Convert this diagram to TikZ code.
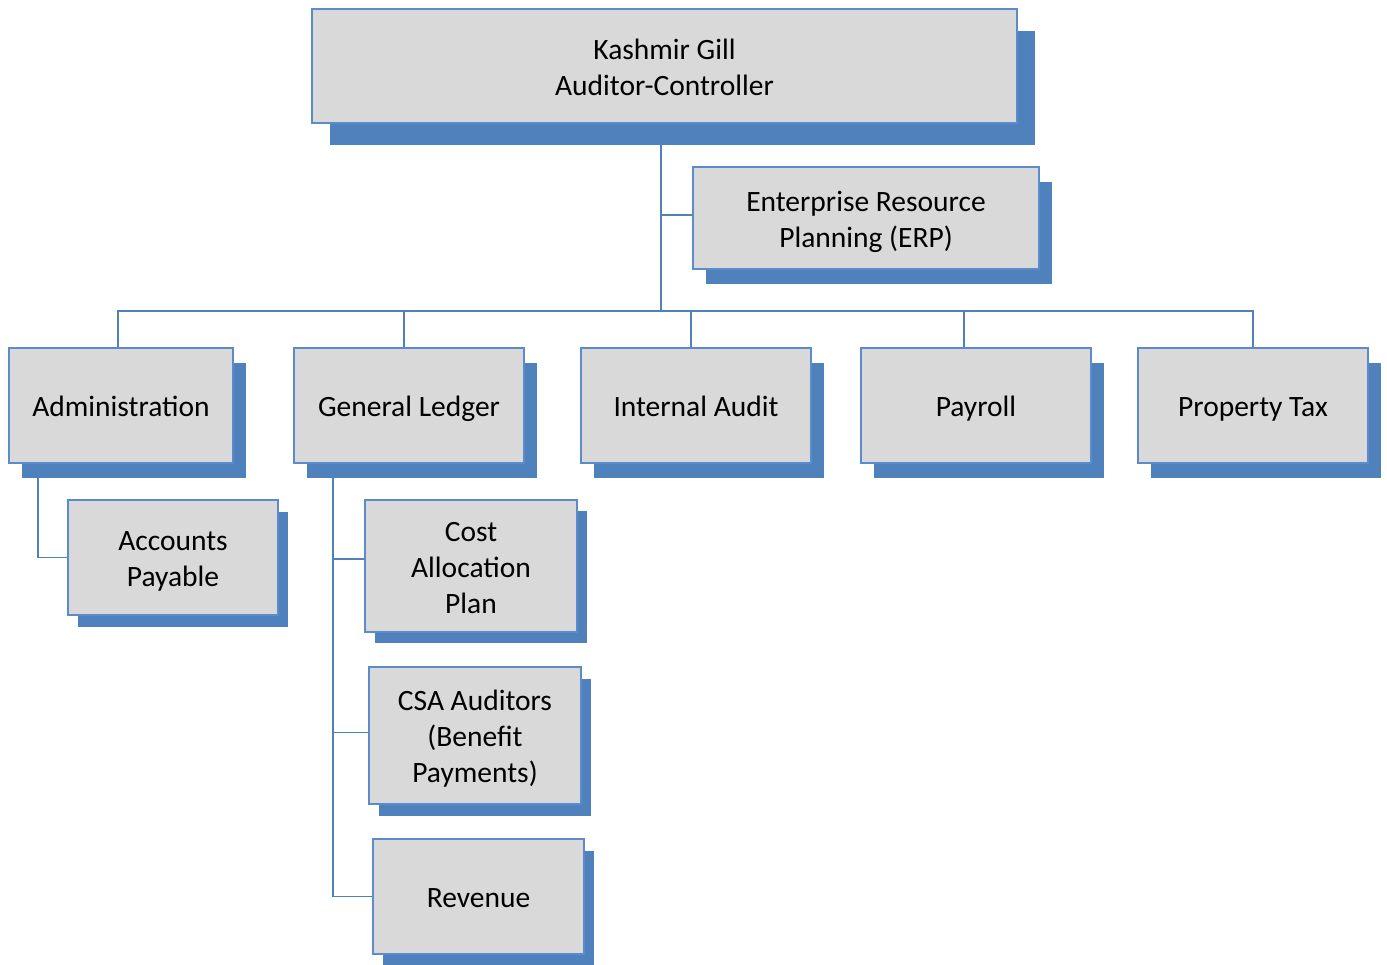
\documentclass[tikz,border=0pt]{standalone}
\usepackage{fontspec}
\setmainfont{Carlito}
\usetikzlibrary{shadows,backgrounds}
\definecolor{orgblue}{HTML}{4F81BD}
\definecolor{orgedge}{HTML}{5B8BCB}
\definecolor{orgfill}{HTML}{D9D9D9}
\tikzset{
  unit/.style={draw=orgedge, line width=1.4pt, fill=orgfill, inner sep=0pt,
    align=center, font=\fontsize{29.5}{36}\selectfont,
    text height=38pt, text depth=15.5pt},
  % labels of two or three lines: fixed extents keep them centred in the box
  tworows/.style={text height=74pt},
  threerows/.style={text height=110pt},
  drop/.style 2 args={general shadow={fill=orgblue, shadow xshift=#1pt, shadow yshift=-#2pt}},
  conn/.style={draw=orgblue, line width=1.5pt},
}
\begin{document}
\begin{tikzpicture}[x=1pt, y=-1pt]
\useasboundingbox (0,0) rectangle (1387,964);

% head of department
\node[unit, tworows, drop={18}{22}, minimum width=705pt, minimum height=114pt] (head) at (664.5,66)
  {Kashmir Gill\\Auditor-Controller};
\node[unit, tworows, drop={13}{15}, minimum width=346pt, minimum height=102pt] (erp) at (866,218)
  {Enterprise Resource\\Planning (ERP)};

% divisions
\node[unit, drop={13}{15}, minimum width=224pt, minimum height=115pt] (admin) at (121,405.5) {Administration};
\node[unit, drop={13}{15}, minimum width=230pt, minimum height=115pt] (gl) at (409,405.5) {General Ledger};
\node[unit, drop={13}{15}, minimum width=230pt, minimum height=115pt] (ia) at (696,405.5) {Internal Audit};
\node[unit, drop={13}{15}, minimum width=230pt, minimum height=115pt] (pay) at (976,405.5) {Payroll};
\node[unit, drop={13}{15}, minimum width=230pt, minimum height=115pt] (ptax) at (1253,405.5) {Property Tax};

% sections
\node[unit, tworows, drop={10}{12}, minimum width=210pt, minimum height=115pt] (ap) at (173,557.5) {Accounts\\Payable};
\node[unit, threerows, drop={10}{11}, minimum width=212pt, minimum height=132pt] (cap) at (471,566) {Cost\\Allocation\\Plan};
\node[unit, threerows, drop={10}{12}, minimum width=212pt, minimum height=137pt] (csa) at (475,735.5) {CSA Auditors\\(Benefit\\Payments)};
\node[unit, drop={10}{12}, minimum width=211pt, minimum height=115pt] (rev) at (478.5,896.5) {Revenue};

% reporting lines
\begin{pgfonlayer}{background}
  \coordinate (trunk) at (661,311);
  \coordinate (admspine) at (38,470);
  \coordinate (glspine) at (333,470);
  \draw[conn] (trunk |- head.south) -- (trunk);
  \draw[conn] ([yshift=3pt]erp.west) -- ([yshift=3pt]erp.west -| trunk);
  \draw[conn] ([xshift=-3pt]admin.north) |- (trunk);
  \draw[conn] ([xshift=-5pt]gl.north) |- (trunk);
  \draw[conn] ([xshift=-5pt]ia.north) |- (trunk);
  \draw[conn] ([xshift=-12pt]pay.north) |- (trunk);
  \draw[conn] (ptax.north) |- (trunk);
  \draw[conn] (admspine) |- (ap.west);
  \draw[conn] (glspine) |- (rev.west);
  \draw[conn] ([yshift=7pt]cap.west) -- ([yshift=7pt]cap.west -| glspine);
  \draw[conn] ([yshift=3pt]csa.west) -- ([yshift=3pt]csa.west -| glspine);
\end{pgfonlayer}
\end{tikzpicture}
\end{document}
